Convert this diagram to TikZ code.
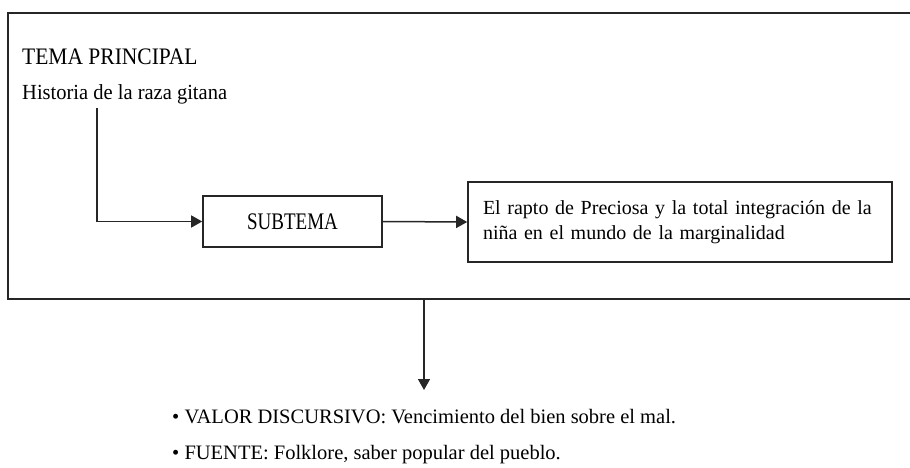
\documentclass[tikz,border=0pt]{standalone}
\usepackage{fontspec}
\setmainfont{Liberation Serif}
\usetikzlibrary{arrows.meta}
\tikzset{
  frame/.style={line width=1.9pt, draw=black!85},
  boxed/.style={draw=black!85, line width=1.6pt, rectangle, inner sep=0pt},
  conn/.style={line width=1.5pt, draw=black!85, -{Triangle[length=11pt,width=12pt]}},
  txt/.style={inner sep=0pt, anchor=base west, font=\fontsize{20.5}{25}\selectfont}
}
\begin{document}
\begin{tikzpicture}[x=1pt,y=-1pt]
\useasboundingbox (0,0) rectangle (910,468);
% outer frame (open on the right)
\draw[frame] (915,13) -- (8,13) -- (8,299) -- (915,299);
% texts
\node[txt] (tema) at (22,65) {\fontsize{21.5}{25}\selectfont\scalebox{1}[1.1]{TEMA PRINCIPAL}};
\node[txt] (hist) at (22,100) {\scalebox{1}[1.05]{Historia de la raza gitana}};
% boxes
\node[boxed, minimum width=179pt, minimum height=51pt, font=\fontsize{19}{22}\selectfont] (sub) at (292.5,221.5) {\scalebox{1}[1.25]{SUBTEMA}};
\node[boxed, minimum height=80pt, text width=394pt, align=left, inner xsep=15pt, font=\fontsize{20}{25}\selectfont] (rapto) at (680,222)
  {\mbox{El rapto de Preciosa y la total integración de la}\\\mbox{niña en el mundo de la marginalidad}};
% connectors
\coordinate (c1) at (97,108);
\draw[conn] (c1) |- (sub.west);
\draw[conn] (sub.east) -- (rapto.west);
\coordinate (c2) at (424,299);
\coordinate (c3) at (424,390);
\draw[conn] (c2) -- (c3);
% bullet list
\node[txt] (b1) at (172,423) {\textbullet\ VALOR DISCURSIVO: Vencimiento del bien sobre el mal.};
\node[txt] (b2) at (172,459) {\textbullet\ FUENTE: Folklore, saber popular del pueblo.};
\end{tikzpicture}
\end{document}
